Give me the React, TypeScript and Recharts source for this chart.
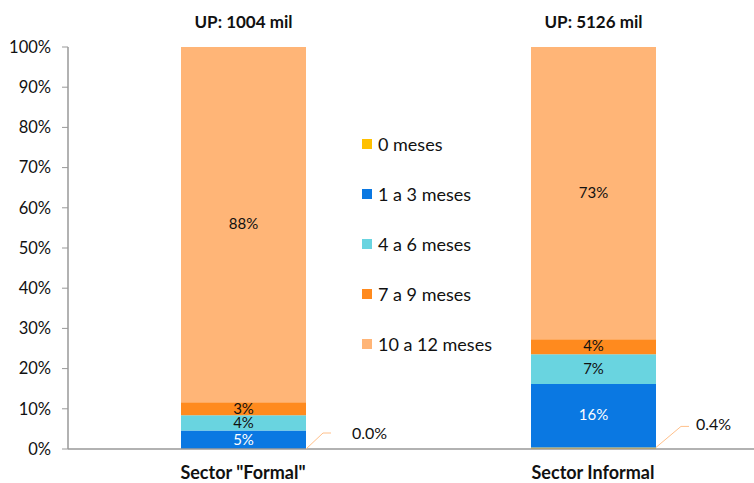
import React from "react";
import { BarChart, Bar, XAxis, YAxis, Legend, LabelList } from "recharts";

const categories = ['Sector "Formal"', "Sector Informal"];
const upLabels = ["UP: 1004 mil", "UP: 5126 mil"];
const seriesNames = ["0 meses", "1 a 3 meses", "4 a 6 meses", "7 a 9 meses", "10 a 12 meses"];
const s0 = [0.0, 0.4];
const s1 = [4.6, 15.8];
const s2 = [3.8, 7.4];
const s3 = [3.2, 3.7];
const s4 = [88.4, 72.7];
const yTicks = [0, 10, 20, 30, 40, 50, 60, 70, 80, 90, 100];

const colors = ["#FFC000", "#0A78E2", "#69D4E0", "#FF8A1E", "#FFB577"];
const labelColors = ["#000", "#fff", "#111", "#111", "#111"];
const keys = ["s0", "s1", "s2", "s3", "s4"];
const seriesData = [s0, s1, s2, s3, s4];

const data = categories.map((c, i) => {
  const row: any = { name: c };
  keys.forEach((k, j) => (row[k] = seriesData[j][i]));
  return row;
});

const FONT = "Lato, 'Noto Sans', sans-serif";

const TopLabel = (props: any) => {
  const { x, y, width, index } = props;
  return (
    <text x={x + width / 2} y={y - 19} textAnchor="middle" fontSize={17} fontWeight="bold" fill="#111" fontFamily={FONT}>
      {upLabels[index]}
    </text>
  );
};

// Leader label for the "0 meses" series, anchored at the bottom of the stack.
const LeaderLabel = (props: any) => {
  const { x, y, width, height, index, value } = props;
  const bx = x + width;
  const by = y + height;
  const diag = index === 0 ? [17, 16] : [25, 21];
  const hor = 8;
  const gap = index === 0 ? 21 : 7;
  const ex = bx + diag[0];
  const ey = by - diag[1];
  return (
    <g>
      <polyline points={`${bx},${by} ${ex},${ey} ${ex + hor},${ey}`} fill="none" stroke="#FFC08A" strokeWidth={1} />
      <text x={ex + hor + gap} y={ey + (index === 0 ? 2 : 0)} dominantBaseline="middle" fontSize={16} fill="#111" fontFamily={FONT}>
        {`${Number(value).toFixed(1)}%`}
      </text>
    </g>
  );
};

const InsideLabel = (color: string) => (props: any) => {
  const { x, y, width, height, value } = props;
  return (
    <text x={x + width / 2} y={y + height / 2 + 1} textAnchor="middle" dominantBaseline="middle" fontSize={15} fill={color} fontFamily={FONT}>
      {`${Math.round(Number(value))}%`}
    </text>
  );
};

const LegendContent = () => (
  <div style={{ fontFamily: FONT }}>
    {seriesNames.map((n, i) => (
      <div key={n} style={{ display: "flex", alignItems: "center", height: 50 }}>
        <span style={{ display: "inline-block", width: 10, height: 10, background: colors[i], marginRight: 6 }} />
        <span style={{ fontSize: 18, color: "#111" }}>{n}</span>
      </div>
    ))}
  </div>
);

export default function App() {
  return (
    <div style={{ width: 754, height: 483, overflow: "hidden" }}>
      <style>{`body{margin:0}`}</style>
      <BarChart
        width={770}
        height={483}
        data={data}
        margin={{ top: 47, right: 2, bottom: 0, left: 8 }}
        barSize={125}
      >
        <XAxis
          dataKey="name"
          height={34}
          tickLine={false}
          axisLine={{ stroke: "#999", strokeWidth: 1.5 }}
          tick={{ fontSize: 18, fontWeight: "bold", fill: "#111", fontFamily: FONT }}
          tickMargin={11}
        />
        <YAxis
          domain={[0, 100]}
          ticks={yTicks}
          width={60}
          tickFormatter={(v: number) => `${v}%`}
          axisLine={{ stroke: "#999", strokeWidth: 1.5 }}
          tickLine={{ stroke: "#999" }}
          tickSize={6}
          tickMargin={11}
          tick={{ fontSize: 16.5, fill: "#111", fontFamily: FONT }}
          interval={0}
        />
        <Legend
          layout="vertical"
          align="center"
          verticalAlign="middle"
          content={<LegendContent />}
          wrapperStyle={{ left: 362, top: 119, width: 200 }}
        />
        {keys.map((k, j) => (
          <Bar key={k} dataKey={k} name={seriesNames[j]} stackId="a" fill={colors[j]} isAnimationActive={false}>
            {j > 0 ? <LabelList dataKey={k} content={InsideLabel(labelColors[j])} /> : null}
            {j === 1 ? <LabelList dataKey="s0" content={<LeaderLabel />} /> : null}
            {j === 4 ? <LabelList dataKey={k} content={<TopLabel />} /> : null}
          </Bar>
        ))}
      </BarChart>
    </div>
  );
}
